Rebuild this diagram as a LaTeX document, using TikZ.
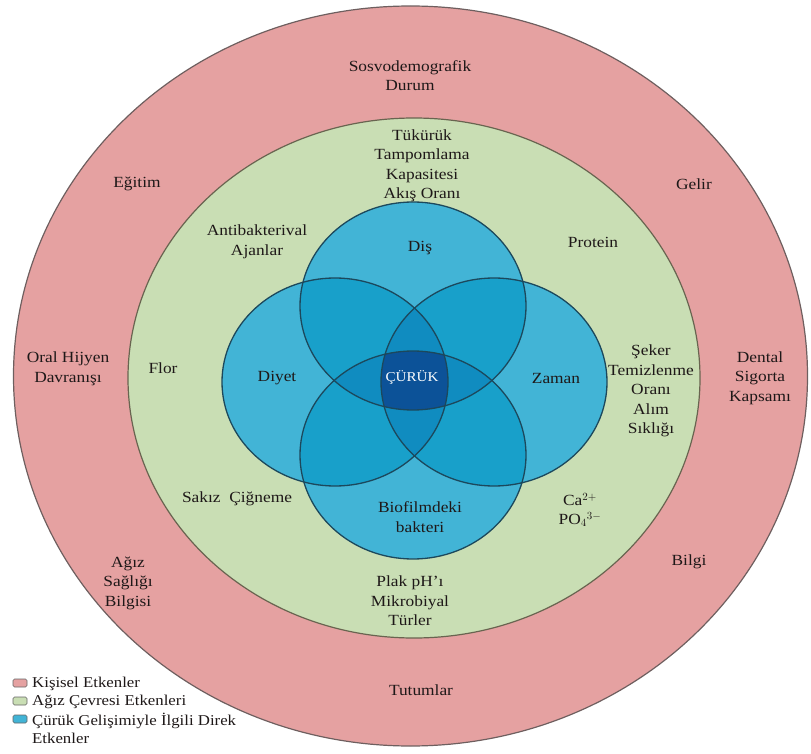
\documentclass[tikz,border=0pt]{standalone}
\usepackage{fontspec}
\setmainfont{Liberation Serif}[FakeStretch=1.12]
\definecolor{pinkc}{RGB}{229,161,161}
\definecolor{greenc}{RGB}{201,222,180}
\definecolor{blueA}{RGB}{66,180,214}
\definecolor{blueB}{RGB}{24,160,202}
\definecolor{blueC}{RGB}{16,140,192}
\definecolor{blueD}{RGB}{12,82,152}
\definecolor{outline}{RGB}{110,95,95}
\definecolor{gline}{RGB}{105,100,80}
\definecolor{bline}{RGB}{28,72,92}
\definecolor{txt}{RGB}{30,24,24}
\begin{document}
\begin{tikzpicture}[x=1pt,y=-1pt,
  shDis/.style={insert path={(413,306) ellipse [x radius=113pt, y radius=104pt]}},
  shDiyet/.style={insert path={(335,382) ellipse [x radius=113pt, y radius=104pt]}},
  shZaman/.style={insert path={(494,382) ellipse [x radius=113pt, y radius=104pt]}},
  shBio/.style={insert path={(413,455) ellipse [x radius=113pt, y radius=104pt]}},
  lbl/.style={align=center, text=txt, font=\fontsize{15.5}{19.5}\selectfont, inner sep=0pt},
  leg/.style={anchor=west, text=txt, font=\fontsize{15}{18}\selectfont, inner sep=0pt, align=left},
  legbox/.style={draw=gray!80!black, line width=0.6pt, rounded corners=1.5pt, minimum width=14pt, minimum height=8pt, inner sep=0pt}
]
\useasboundingbox (0,0) rectangle (811,754);
% outer rings
\filldraw[fill=pinkc, draw=outline, line width=1.2pt] (410.5,376) ellipse [x radius=397pt, y radius=370pt];
\filldraw[fill=greenc, draw=gline, line width=1.2pt] (414,378) ellipse [x radius=286pt, y radius=260pt];
% single regions
\foreach \s in {shDis,shDiyet,shZaman,shBio} { \fill[blueA,\s]; }
% pairs
\foreach \a/\b in {shDis/shDiyet,shDis/shZaman,shDis/shBio,shDiyet/shZaman,shDiyet/shBio,shZaman/shBio} {
  \begin{scope}\clip[\a]; \fill[blueB,\b];\end{scope}
}
% triples
\foreach \a/\b/\c in {shDis/shDiyet/shZaman,shDis/shDiyet/shBio,shDis/shZaman/shBio,shDiyet/shZaman/shBio} {
  \begin{scope}\clip[\a]; \clip[\b]; \fill[blueC,\c];\end{scope}
}
% quadruple
\begin{scope}\clip[shDis]; \clip[shDiyet]; \clip[shZaman]; \fill[blueD,shBio];\end{scope}
% outlines
\foreach \s in {shDis,shDiyet,shZaman,shBio} { \draw[bline, line width=1.3pt,\s]; }

% outer ring labels
\node[lbl] (sosyo) at (410,75.5) {Sosvodemografik\\Durum};
\node[lbl] (egitim) at (137,184) {Eğitim};
\node[lbl] (gelir) at (694,184) {Gelir};
\node[lbl] (oral) at (68,369) {Oral Hijyen\\Davranışı};
\node[lbl] (dental) at (760,378) {Dental\\Sigorta\\Kapsamı};
\node[lbl] (agiz) at (128,583) {Ağız\\Sağlığı\\Bilgisi};
\node[lbl] (bilgi) at (689,562) {Bilgi};
\node[lbl] (tutum) at (421,690) {Tutumlar};
% green ring labels
\node[lbl] (tukuruk) at (422,166) {Tükürük\\Tampomlama\\Kapasitesi\\Akış Oranı};
\node[lbl] (antibak) at (257,242) {Antibakterival\\Ajanlar};
\node[lbl] (protein) at (593,242) {Protein};
\node[lbl] (flor) at (163,368) {Flor};
\node[lbl] (seker) at (651,391) {Şeker\\Temizlenme\\Oranı\\Alım\\Sıklığı};
\node[lbl] (sakiz) at (237,499) {Sakız\ \ Çiğneme};
\node[lbl] (ca) at (580,510) {Ca$^{2+}$\\PO$_4$$^{3-}$};
\node[lbl] (plak) at (410,601) {Plak pH’ı\\Mikrobiyal\\Türler};
% inner labels
\node[lbl] (dis) at (420,248) {Diş};
\node[lbl] (diyet) at (277,378) {Diyet};
\node[lbl] (zaman) at (556,378) {Zaman};
\node[lbl] (bio) at (420,517) {Biofilmdeki\\bakteri};
\node[lbl, text=white, font=\fontsize{13.5}{16}\selectfont] (curuk) at (412,377) {ÇÜRÜK};
% legend
\node[legbox, fill=pinkc] (lp) at (20,683) {};
\node[legbox, fill=greenc] (lg) at (20,701) {};
\node[legbox, fill=blueA] (lb) at (20,719) {};
\node[leg] (lpt) at (32,684) {Kişisel Etkenler};
\node[leg] (lgt) at (32,702) {Ağız Çevresi Etkenleri};
\node[leg, anchor=north west] (lbt) at (32,713) {Çürük Gelişimiyle İlgili Direk\\Etkenler};
\end{tikzpicture}
\end{document}
